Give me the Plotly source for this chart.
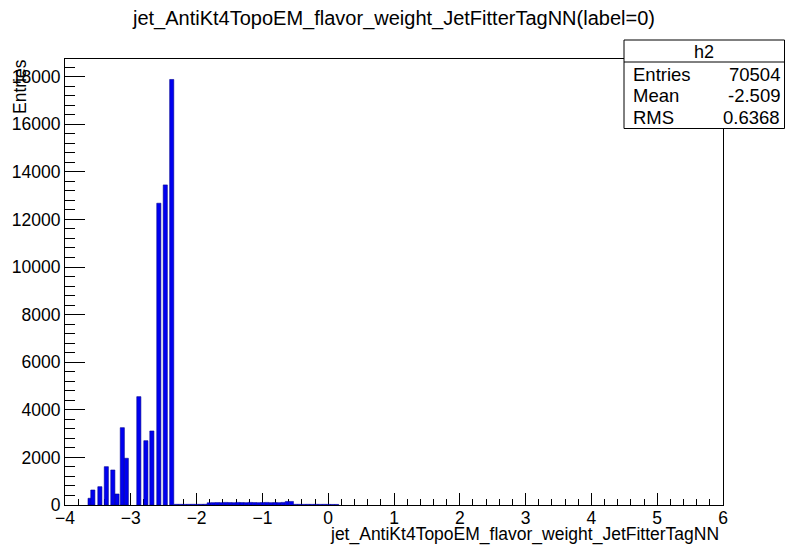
import plotly.graph_objects as go

# ---- data ----
main_x = [-3.619, -3.577, -3.470, -3.372, -3.273, -3.210, -3.129, -3.068,
          -2.878, -2.771, -2.680, -2.574, -2.476, -2.378]
main_y = [282, 630, 769, 1610, 1471, 462, 3249, 1963,
          4552, 2702, 3110, 12680, 13450, 17880]

low_x = [-2.3088, -2.2463, -2.1838, -2.1213, -2.0588, -1.9963, -1.9338, -1.8713,
         -1.8088, -1.7463, -1.6838, -1.6213, -1.5588, -1.4963, -1.4338, -1.3713,
         -1.3088, -1.2463, -1.1838, -1.1213, -1.0588, -0.9963, -0.9338, -0.8713,
         -0.8088, -0.7463, -0.6838, -0.6213, -0.5588, -0.4963, -0.4338, -0.3713,
         -0.3088, -0.2463, -0.1838, -0.1213, -0.0588, 0.0037, 0.0662, 0.1287]
low_y = [30, 30, 28, 30, 32, 30, 30, 32,
         95, 100, 105, 100, 110, 105, 100, 110,
         105, 100, 110, 105, 100, 105, 110, 100,
         105, 100, 110, 150, 150, 30, 30, 28,
         30, 28, 30, 28, 30, 28, 25, 25]

title_text = "jet_AntiKt4TopoEM_flavor_weight_JetFitterTagNN(label=0)"
x_title = "jet_AntiKt4TopoEM_flavor_weight_JetFitterTagNN"
y_title = "Entries"
stats_name = "h2"
stats_labels = ["Entries", "Mean", "RMS"]
stats_values = ["70504", "-2.509", "0.6368"]

BIN_W = 0.0625
W, H = 786, 545
L, R, T, B = 65, 723, 59, 505
FONT = "Liberation Sans, Arial, Helvetica, sans-serif"


def px(x):
    return (x - L) / (R - L)


def py(y):
    return (B - y) / (B - T)


fig = go.Figure()
fig.add_trace(go.Bar(x=low_x, y=low_y, width=BIN_W,
                     marker=dict(color="#0000f0", line=dict(color="#000090", width=0.5)),
                     showlegend=False, hoverinfo="x+y"))
fig.add_trace(go.Bar(x=main_x, y=main_y, width=BIN_W,
                     marker=dict(color="#0000f0", line=dict(color="#000090", width=0.6)),
                     showlegend=False, hoverinfo="x+y"))

fig.update_layout(
    width=W, height=H, autosize=False,
    margin=dict(l=L, r=W - R, t=T, b=H - B, pad=0),
    paper_bgcolor="white", plot_bgcolor="white",
    font=dict(family=FONT, size=17, color="black"),
    barmode="overlay",
    xaxis=dict(range=[-4, 6], tick0=0, dtick=1, ticks="inside", ticklen=12,
               tickcolor="black", tickwidth=1,
               minor=dict(dtick=0.2, ticks="inside", ticklen=6, tickcolor="black"),
               showline=True, mirror=True, linecolor="black", linewidth=1,
               showgrid=False, zeroline=False, tickfont=dict(size=17.5),
               ticklabelstandoff=-3,
               layer="below traces"),
    yaxis=dict(range=[0, 18740], tick0=0, dtick=2000, ticks="inside", ticklen=20,
               tickcolor="black", tickwidth=1, tickformat="d",
               minor=dict(dtick=400, ticks="inside", ticklen=10, tickcolor="black"),
               showline=True, mirror=True, linecolor="black", linewidth=1,
               showgrid=False, zeroline=False, tickfont=dict(size=17.5),
               ticklabelstandoff=0),
)

ann = []
ann.append(dict(text=title_text, xref="paper", yref="paper", x=px(393), y=py(18),
                xanchor="center", yanchor="middle", showarrow=False,
                font=dict(size=20)))
ann.append(dict(text=x_title, xref="paper", yref="paper", x=px(721), y=py(534.5),
                xanchor="right", yanchor="middle", showarrow=False,
                font=dict(size=17.5)))
ann.append(dict(text=y_title, xref="paper", yref="paper", x=px(19.5), y=py(57),
                xanchor="center", yanchor="top", textangle=-90, showarrow=False,
                font=dict(size=17.5)))

# stats box
bx0, bx1, by0, by1, bsep = 624, 784.5, 40, 128.5, 62
shapes = [
    dict(type="rect", xref="paper", yref="paper", x0=px(bx0), x1=px(bx1), y0=py(by1), y1=py(by0),
         line=dict(color="black", width=1), fillcolor="white", layer="above"),
    dict(type="line", xref="paper", yref="paper", x0=px(bx0), x1=px(bx1), y0=py(bsep), y1=py(bsep),
         line=dict(color="black", width=1), layer="above"),
]
ann.append(dict(text=stats_name, xref="paper", yref="paper", x=px((bx0 + bx1) / 2), y=py(52),
                xanchor="center", yanchor="middle", showarrow=False, font=dict(size=18)))
row_y = [74, 95, 117]
for lab, val, yy in zip(stats_labels, stats_values, row_y):
    ann.append(dict(text=lab, xref="paper", yref="paper", x=px(631), y=py(yy),
                    xanchor="left", yanchor="middle", showarrow=False, font=dict(size=18.5)))
    ann.append(dict(text=val, xref="paper", yref="paper", x=px(782), y=py(yy),
                    xanchor="right", yanchor="middle", showarrow=False, font=dict(size=18.5)))

fig.update_layout(annotations=ann, shapes=shapes)
fig.write_html("out.html", config={"displayModeBar": False},
               post_script="document.body.style.margin='0';document.body.style.overflow='hidden';")
